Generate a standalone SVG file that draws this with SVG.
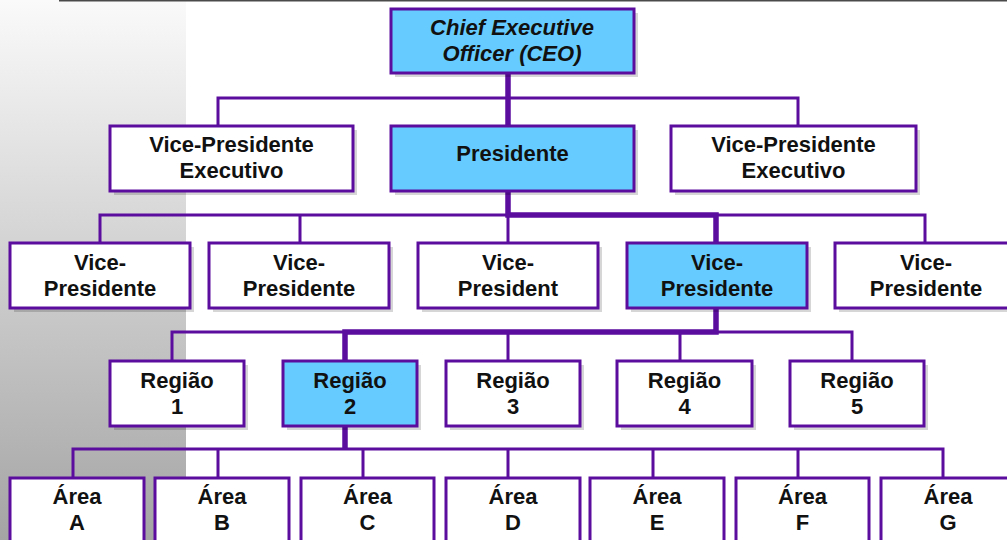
<svg xmlns="http://www.w3.org/2000/svg" width="1007" height="540" viewBox="0 0 1007 540">
  <defs>
    <linearGradient id="panelGrad" x1="0" y1="0" x2="0" y2="1">
      <stop offset="0" stop-color="#fafafa"/>
      <stop offset="1" stop-color="#a4a4a4"/>
    </linearGradient>
    <style>
      .box { stroke: #5b0d9e; stroke-width: 3; }
      .plain { fill: #ffffff; }
      .hi { fill: #66ccff; }
      .shadow { fill: #000000; opacity: 0.16; }
      .thin { fill: none; stroke: #5b0d9e; stroke-width: 3; }
      .thick { fill: none; stroke: #5b0d9e; stroke-width: 5.5; }
      text { font-family: "Liberation Sans", Arial, sans-serif; font-weight: bold; font-size: 22px; fill: #111111; text-anchor: middle; }
      .it { font-style: italic; }
    </style>
  </defs>

  <!-- background -->
  <rect x="0" y="0" width="1007" height="540" fill="#ffffff"/>
  <rect x="0" y="0" width="186" height="540" fill="url(#panelGrad)"/>
  <rect x="59" y="0" width="948" height="1.5" fill="#4a4a4a"/>

  <!-- connectors -->
  <g id="connectors">
    <!-- CEO to level 2 -->
    <path class="thin" d="M218,126 V98 H798 V126"/>
    <path class="thick" d="M508,73 V126"/>
    <!-- Presidente to level 3 -->
    <path class="thin" d="M100,243 V215 H925 V243 M300,215 V243 M508,215 V243"/>
    <path class="thick" d="M508,191 V215 H716 V243"/>
    <!-- Vice-Presidente to regions -->
    <path class="thin" d="M172,361 V332 H852 V361 M508,332 V361 M680,332 V361"/>
    <path class="thick" d="M716,308 V332 H345 V361"/>
    <!-- Região 2 to areas -->
    <path class="thin" d="M73,478 V449 H943 V478 M218,449 V478 M363,449 V478 M508,449 V478 M653,449 V478 M798,449 V478"/>
    <path class="thick" d="M345,426 V449"/>
  </g>

  <!-- level 1 -->
  <g id="ceo">
    <rect class="shadow" x="395" y="13" width="243" height="64"/>
    <rect class="box hi" x="391" y="9" width="243" height="64"/>
    <text class="it" x="512" y="35">Chief Executive</text>
    <text class="it" x="512" y="61">Officer (CEO)</text>
  </g>

  <!-- level 2 -->
  <g id="vpe-left">
    <rect class="shadow" x="114" y="130" width="243" height="65"/>
    <rect class="box plain" x="110" y="126" width="243" height="65"/>
    <text x="231.5" y="152">Vice-Presidente</text>
    <text x="231.5" y="178">Executivo</text>
  </g>
  <g id="presidente">
    <rect class="shadow" x="395" y="130" width="243" height="65"/>
    <rect class="box hi" x="391" y="126" width="243" height="65"/>
    <text x="512.5" y="161">Presidente</text>
  </g>
  <g id="vpe-right">
    <rect class="shadow" x="675" y="130" width="245" height="65"/>
    <rect class="box plain" x="671" y="126" width="245" height="65"/>
    <text x="793.5" y="152">Vice-Presidente</text>
    <text x="793.5" y="178">Executivo</text>
  </g>

  <!-- level 3 -->
  <g id="vp-1">
    <rect class="shadow" x="14" y="247" width="180" height="65"/>
    <rect class="box plain" x="10" y="243" width="180" height="65"/>
    <text x="100" y="270">Vice-</text>
    <text x="100" y="296">Presidente</text>
  </g>
  <g id="vp-2">
    <rect class="shadow" x="213" y="247" width="180" height="65"/>
    <rect class="box plain" x="209" y="243" width="180" height="65"/>
    <text x="299" y="270">Vice-</text>
    <text x="299" y="296">Presidente</text>
  </g>
  <g id="vp-3">
    <rect class="shadow" x="422" y="247" width="180" height="65"/>
    <rect class="box plain" x="418" y="243" width="180" height="65"/>
    <text x="508" y="270">Vice-</text>
    <text x="508" y="296">President</text>
  </g>
  <g id="vp-4">
    <rect class="shadow" x="631" y="247" width="180" height="65"/>
    <rect class="box hi" x="627" y="243" width="180" height="65"/>
    <text x="717" y="270">Vice-</text>
    <text x="717" y="296">Presidente</text>
  </g>
  <g id="vp-5">
    <rect class="shadow" x="839" y="247" width="180" height="65"/>
    <rect class="box plain" x="835" y="243" width="180" height="65"/>
    <text x="926" y="270">Vice-</text>
    <text x="926" y="296">Presidente</text>
  </g>

  <!-- level 4 -->
  <g id="regiao-1">
    <rect class="shadow" x="114" y="365" width="134" height="65"/>
    <rect class="box plain" x="110" y="361" width="134" height="65"/>
    <text x="177" y="388">Região</text>
    <text x="177" y="414">1</text>
  </g>
  <g id="regiao-2">
    <rect class="shadow" x="287" y="365" width="134" height="65"/>
    <rect class="box hi" x="283" y="361" width="134" height="65"/>
    <text x="350" y="388">Região</text>
    <text x="350" y="414">2</text>
  </g>
  <g id="regiao-3">
    <rect class="shadow" x="450" y="365" width="134" height="65"/>
    <rect class="box plain" x="446" y="361" width="134" height="65"/>
    <text x="513" y="388">Região</text>
    <text x="513" y="414">3</text>
  </g>
  <g id="regiao-4">
    <rect class="shadow" x="621" y="365" width="135" height="65"/>
    <rect class="box plain" x="617" y="361" width="135" height="65"/>
    <text x="684.5" y="388">Região</text>
    <text x="684.5" y="414">4</text>
  </g>
  <g id="regiao-5">
    <rect class="shadow" x="794" y="365" width="134" height="65"/>
    <rect class="box plain" x="790" y="361" width="134" height="65"/>
    <text x="857" y="388">Região</text>
    <text x="857" y="414">5</text>
  </g>

  <!-- level 5 -->
  <g id="area-a">
    <rect class="box plain" x="10" y="478" width="134" height="75"/>
    <text x="77" y="504">Área</text>
    <text x="77" y="530">A</text>
  </g>
  <g id="area-b">
    <rect class="box plain" x="155" y="478" width="134" height="75"/>
    <text x="222" y="504">Área</text>
    <text x="222" y="530">B</text>
  </g>
  <g id="area-c">
    <rect class="box plain" x="301" y="478" width="133" height="75"/>
    <text x="367.5" y="504">Área</text>
    <text x="367.5" y="530">C</text>
  </g>
  <g id="area-d">
    <rect class="box plain" x="446" y="478" width="134" height="75"/>
    <text x="513" y="504">Área</text>
    <text x="513" y="530">D</text>
  </g>
  <g id="area-e">
    <rect class="box plain" x="590" y="478" width="134" height="75"/>
    <text x="657" y="504">Área</text>
    <text x="657" y="530">E</text>
  </g>
  <g id="area-f">
    <rect class="box plain" x="736" y="478" width="133" height="75"/>
    <text x="802.5" y="504">Área</text>
    <text x="802.5" y="530">F</text>
  </g>
  <g id="area-g">
    <rect class="box plain" x="881" y="478" width="134" height="75"/>
    <text x="948" y="504">Área</text>
    <text x="948" y="530">G</text>
  </g>
</svg>
